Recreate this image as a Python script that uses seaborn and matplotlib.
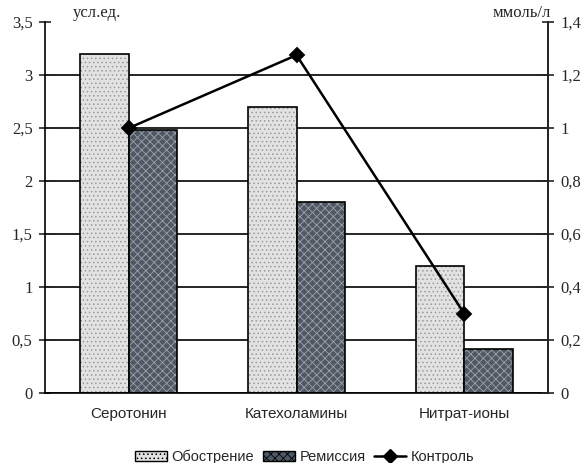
import numpy as np
import pandas as pd
import matplotlib
matplotlib.use("Agg")
import matplotlib.pyplot as plt
import seaborn as sns
from matplotlib.patches import Patch
from matplotlib.lines import Line2D

categories = ["Серотонин", "Катехоламины", "Нитрат-ионы"]
obostrenie = [3.2, 2.7, 1.2]
remissiya = [2.48, 1.8, 0.42]
kontrol = [1.0, 1.275, 0.3]
series = ["Обострение", "Ремиссия"]

sns.set_style("white")
plt.rcParams["font.family"] = ["Liberation Serif", "DejaVu Serif"]
plt.rcParams["hatch.linewidth"] = 0.6

data = pd.DataFrame({
    "cat": categories * 2,
    "val": obostrenie + remissiya,
    "ser": [series[0]] * 3 + [series[1]] * 3,
})

fig = plt.figure(figsize=(5.86, 4.63), dpi=100)
ax = fig.add_axes([0.0768, 0.151, 0.8584, 0.8015])

sns.barplot(data=data, x="cat", y="val", hue="ser", order=categories,
            hue_order=series, palette=["#e2e2e2", "#4e5864"], width=0.58,
            edgecolor="black", linewidth=1.2, ax=ax, legend=False, zorder=2)
hatches = ["....", "xxxx"]
hcolors = ["#9a9a9a", "#9aa4b0"]
for i, cont in enumerate(ax.containers):
    for bar in cont:
        bar.set_hatch(hatches[i])
        bar._hatch_color = matplotlib.colors.to_rgba(hcolors[i])

ax.set_ylim(0, 3.5)
ax.set_yticks(np.arange(0, 3.51, 0.5))
ax.set_yticklabels(["0", "0,5", "1", "1,5", "2", "2,5", "3", "3,5"])
ax.set_xlim(-0.5, 2.5)
ax.yaxis.grid(True, color="black", linewidth=1.2)
ax.set_axisbelow(True)
ax.set_xlabel("")
ax.set_ylabel("")
ax.tick_params(axis="y", direction="inout", length=8, width=1.2, labelsize=12, pad=5)
ax.tick_params(axis="x", length=0, pad=10)
for lab in ax.get_xticklabels():
    lab.set_fontfamily(["Liberation Sans", "DejaVu Sans"])
    lab.set_fontsize(11)
ax.set_xticks([-0.5, 0.5, 1.5, 2.5], minor=True)
ax.tick_params(axis="x", which="minor", direction="inout", length=8, width=1.2)
for s in ["left", "bottom", "right"]:
    ax.spines[s].set_linewidth(1.2)
    ax.spines[s].set_color("black")
ax.spines["top"].set_visible(False)

ax2 = ax.twinx()
sns.pointplot(x=categories, y=kontrol, order=categories, color="black",
              markers="D", markersize=7, linewidth=1.8, ax=ax2)
ax2.set_xlim(-0.5, 2.5)
ax2.set_ylim(0, 1.4)
ax2.set_yticks(np.arange(0, 1.41, 0.2))
ax2.set_yticklabels(["0", "0,2", "0,4", "0,6", "0,8", "1", "1,2", "1,4"])
ax2.tick_params(axis="y", direction="inout", length=8, width=1.2, labelsize=12, pad=5)
ax2.spines["top"].set_visible(False)
ax2.spines["right"].set_linewidth(1.2)
ax2.spines["left"].set_visible(False)
ax2.spines["bottom"].set_visible(False)

fig.canvas.draw()
ax.yaxis.get_gridlines()[-1].set_visible(False)

fig.text(0.165, 0.972, "усл.ед.", fontsize=12, ha="center", va="center")
fig.text(0.89, 0.972, "ммоль/л", fontsize=12, ha="center", va="center")

handles = [
    Patch(facecolor="#e2e2e2", edgecolor="black", hatch="....", label=series[0]),
    Patch(facecolor="#4e5864", edgecolor="black", hatch="xxxx", label=series[1]),
    Line2D([0], [0], color="black", marker="D", markersize=7, linewidth=1.8, label="Контроль"),
]
fig.legend(handles=handles, loc="lower center", bbox_to_anchor=(0.52, -0.03), ncol=3,
           frameon=False, handlelength=2.2, handletextpad=0.3, columnspacing=0.6,
           prop={"family": ["Liberation Sans", "DejaVu Sans"], "size": 10.5})

fig.savefig("out.png", dpi=100)
